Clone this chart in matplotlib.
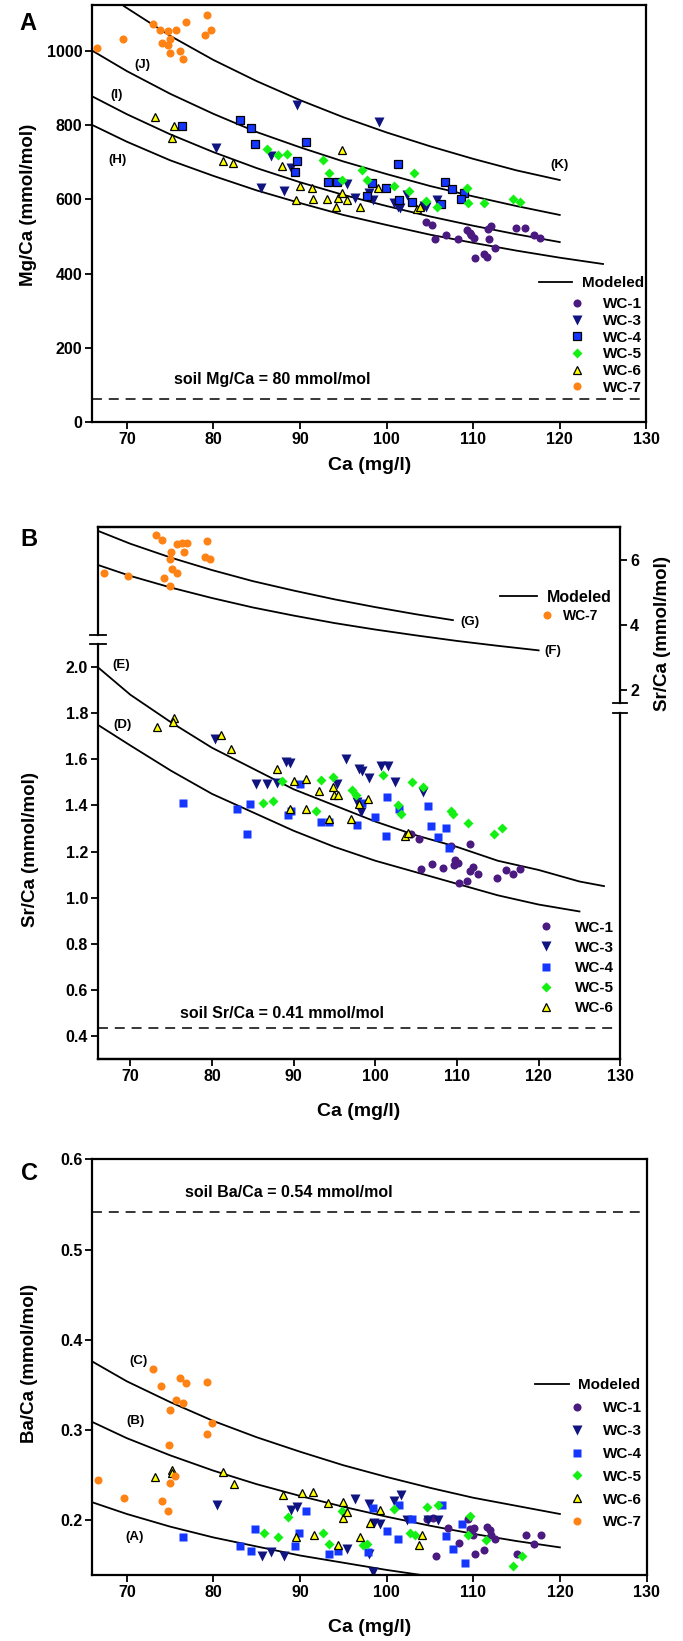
import matplotlib
matplotlib.use("Agg")
import matplotlib.pyplot as plt

plt.rcParams['font.family'] = ['Liberation Sans', 'DejaVu Sans']
plt.rcParams['font.weight'] = 'bold'
plt.rcParams['axes.labelweight'] = 'bold'

# ---------------- panel A : Mg/Ca ----------------
a_wc1_x = [104.5, 105.3, 105.6, 106.9, 108.3, 109.3, 109.8, 109.6, 110.1, 110.2, 111.2, 111.6, 111.7, 112.1, 111.8, 112.5, 115.0, 116.0, 117.0, 117.7]
a_wc1_y = [540, 531, 492, 504, 492, 517, 504, 510, 495, 441, 453, 444, 519, 528, 492, 468, 522, 524, 504, 495]
a_wc3_x = [89.6, 99.1, 80.3, 86.7, 85.5, 88.2, 88.9, 95.4, 96.4, 98.4, 98.0, 100.8, 101.5, 102.4, 104.3, 105.8, 101.3, 104.5]
a_wc3_y = [854, 809, 737, 717, 630, 622, 684, 640, 603, 598, 616, 589, 578, 612, 582, 598, 580, 580]
a_wc4_x = [76.4, 83.1, 84.3, 84.8, 90.7, 89.7, 89.4, 93.2, 94.3, 98.3, 97.7, 99.9, 101.3, 101.4, 102.9, 106.7, 107.6, 108.9, 108.6, 106.3]
a_wc4_y = [798, 813, 791, 749, 755, 703, 673, 646, 646, 645, 609, 631, 695, 598, 594, 648, 628, 616, 600, 587]
a_wc5_x = [86.2, 87.4, 88.5, 92.6, 93.3, 94.8, 97.2, 97.7, 100.9, 102.6, 103.2, 104.5, 105.8, 109.3, 109.4, 111.3, 114.6, 115.4]
a_wc5_y = [735, 719, 721, 706, 670, 652, 679, 652, 637, 623, 670, 596, 580, 630, 591, 591, 601, 594]
a_wc6_x = [73.3, 75.4, 75.2, 81.1, 82.3, 87.9, 90.0, 91.4, 89.5, 91.5, 93.1, 94.4, 94.8, 94.9, 95.4, 96.9, 99.0, 103.5, 103.9, 94.2]
a_wc6_y = [821, 798, 766, 703, 697, 690, 637, 630, 598, 600, 600, 603, 616, 733, 598, 580, 630, 574, 580, 580]
a_wc7_x = [66.6, 69.6, 73.0, 73.8, 74.8, 75.7, 74.1, 75.0, 74.8, 75.0, 76.1, 76.5, 76.8, 79.3, 79.7, 79.0]
a_wc7_y = [1006, 1031, 1071, 1057, 1053, 1056, 1022, 1031, 1015, 995, 1000, 977, 1078, 1096, 1057, 1042]

a_curve_x = [66, 70, 75, 80, 85, 90, 95, 100, 105, 110, 115, 120, 125]
a_H = [800, 755, 705, 663, 624, 590, 558, 531, 505, 483, 462, 443, 426]
a_I = [877, 829, 775, 727, 684, 646, 612, 582, 554, 529, 506, 485]
a_J = [1000, 945, 884, 830, 781, 740, 702, 668, 636, 608, 582, 558]
a_K_x = [69.65, 75, 80, 85, 90, 95, 100, 105, 110, 115, 120]
a_K = [1120, 1040, 975, 918, 867, 821, 780, 743, 709, 678, 652]
a_soil = 64

# ---------------- panel B : Sr/Ca ----------------
b_wc1_x = [104.4, 105.3, 105.6, 106.9, 108.3, 109.3, 109.6, 109.8, 110.1, 110.2, 111.2, 111.6, 111.6, 112.0, 112.6, 114.9, 116.0, 116.9, 117.7]
b_wc1_y = [1.275, 1.253, 1.126, 1.148, 1.130, 1.225, 1.141, 1.162, 1.151, 1.065, 1.073, 1.232, 1.116, 1.133, 1.102, 1.086, 1.119, 1.102, 1.123]
b_wc3_x = [80.4, 85.4, 86.7, 88.0, 89.0, 89.6, 96.4, 98.0, 98.4, 99.2, 95.3, 98.2, 100.7, 101.5, 102.4, 105.8, 97.8]
b_wc3_y = [1.686, 1.495, 1.495, 1.498, 1.589, 1.586, 1.603, 1.556, 1.550, 1.521, 1.495, 1.372, 1.570, 1.573, 1.502, 1.459, 1.415]
b_wc4_x = [76.5, 83.1, 84.7, 84.3, 89.3, 89.7, 90.8, 93.3, 94.3, 97.8, 98.4, 99.9, 101.3, 101.4, 102.9, 106.4, 106.8, 107.7, 108.7, 109.0]
b_wc4_y = [1.411, 1.386, 1.405, 1.274, 1.358, 1.375, 1.495, 1.329, 1.329, 1.314, 1.411, 1.350, 1.268, 1.437, 1.386, 1.397, 1.310, 1.261, 1.304, 1.217]
b_wc5_x = [86.2, 87.5, 88.6, 92.7, 93.3, 94.8, 97.2, 97.6, 100.9, 102.8, 103.2, 104.5, 105.8, 109.3, 109.5, 111.3, 114.5, 115.5]
b_wc5_y = [1.411, 1.418, 1.506, 1.375, 1.509, 1.524, 1.466, 1.444, 1.531, 1.401, 1.362, 1.502, 1.480, 1.376, 1.362, 1.324, 1.274, 1.304]
b_wc6_x = [73.3, 75.3, 75.2, 81.1, 82.3, 88.0, 90.1, 91.5, 89.5, 91.5, 93.1, 94.3, 94.8, 94.9, 95.4, 97.0, 98.0, 99.1, 103.6, 104.0]
b_wc6_y = [1.741, 1.780, 1.760, 1.705, 1.644, 1.557, 1.507, 1.514, 1.386, 1.384, 1.463, 1.340, 1.478, 1.444, 1.444, 1.343, 1.408, 1.427, 1.266, 1.282]
# WC-7 read on the right hand axis
b_wc7_x = [73.1, 73.9, 75.7, 76.3, 76.9, 79.4, 75.0, 76.6, 74.9, 79.2, 79.8, 75.1, 75.7, 74.1, 74.8, 66.8, 69.7]
b_wc7_y = [6.76, 6.62, 6.49, 6.53, 6.52, 6.57, 6.26, 6.26, 6.02, 6.09, 6.04, 5.73, 5.59, 5.46, 5.21, 5.59, 5.52]

b_curve_x = [66, 70, 75, 80, 85, 90, 95, 100, 105, 110, 115, 120, 125, 128]
b_E = [2.00, 1.88, 1.76, 1.65, 1.56, 1.47, 1.40, 1.33, 1.27, 1.22, 1.16, 1.12, 1.07, 1.05]
b_D = [1.75, 1.66, 1.55, 1.45, 1.37, 1.29, 1.22, 1.16, 1.11, 1.06, 1.01, 0.97, 0.94]
b_G_x = [66, 70, 75, 80, 85, 90, 95, 100, 105, 109.5]
b_G = [6.90, 6.50, 6.07, 5.69, 5.35, 5.06, 4.79, 4.55, 4.33, 4.15]
b_F_x = [66, 70, 75, 80, 85, 90, 95, 100, 105, 110, 115, 120]
b_F = [5.85, 5.51, 5.15, 4.83, 4.54, 4.29, 4.06, 3.86, 3.68, 3.51, 3.36, 3.22]
b_soil = 0.435

# ---------------- panel C : Ba/Ca ----------------
c_wc1_x = [104.6, 105.3, 105.7, 107.1, 108.4, 109.4, 109.6, 110.1, 110.0, 110.2, 111.2, 111.6, 111.9, 112.1, 112.5, 115.0, 116.1, 117.0, 117.8]
c_wc1_y = [0.202, 0.203, 0.160, 0.192, 0.175, 0.202, 0.190, 0.191, 0.184, 0.163, 0.167, 0.193, 0.189, 0.184, 0.179, 0.163, 0.184, 0.174, 0.184]
c_wc3_x = [80.4, 85.6, 86.7, 88.2, 89.0, 89.6, 95.4, 96.4, 98.0, 98.0, 98.4, 98.5, 99.2, 100.8, 101.7, 102.3, 105.9, 104.8]
c_wc3_y = [0.217, 0.160, 0.165, 0.161, 0.211, 0.215, 0.168, 0.224, 0.218, 0.163, 0.143, 0.197, 0.196, 0.221, 0.228, 0.200, 0.200, 0.200]
c_wc4_x = [76.5, 83.1, 84.3, 84.8, 89.4, 89.9, 90.7, 93.3, 94.4, 97.8, 98.4, 100.0, 101.3, 101.4, 102.9, 106.4, 106.8, 107.7, 108.7, 109.0]
c_wc4_y = [0.181, 0.172, 0.166, 0.190, 0.172, 0.186, 0.210, 0.163, 0.166, 0.165, 0.214, 0.188, 0.179, 0.217, 0.202, 0.217, 0.183, 0.168, 0.196, 0.153]
c_wc5_x = [85.8, 87.5, 88.6, 92.7, 93.3, 94.8, 97.3, 97.7, 100.9, 102.7, 103.3, 104.6, 105.9, 109.4, 109.6, 111.5, 114.6, 115.6]
c_wc5_y = [0.186, 0.181, 0.204, 0.186, 0.174, 0.210, 0.173, 0.174, 0.212, 0.186, 0.184, 0.215, 0.217, 0.184, 0.205, 0.178, 0.149, 0.161]
c_wc6_x = [73.3, 75.2, 75.2, 81.1, 82.4, 88.0, 89.5, 90.2, 91.5, 91.6, 93.2, 94.4, 94.9, 95.0, 95.4, 96.9, 98.1, 99.2, 103.7, 104.1]
c_wc6_y = [0.248, 0.256, 0.252, 0.253, 0.240, 0.228, 0.182, 0.230, 0.231, 0.184, 0.219, 0.173, 0.220, 0.203, 0.209, 0.181, 0.197, 0.211, 0.173, 0.184]
c_wc7_x = [66.7, 69.7, 73.0, 73.9, 74.1, 74.8, 75.0, 74.9, 75.0, 75.6, 75.7, 76.1, 76.8, 76.5, 79.3, 79.8, 79.2]
c_wc7_y = [0.245, 0.225, 0.368, 0.349, 0.221, 0.210, 0.322, 0.283, 0.241, 0.249, 0.333, 0.358, 0.352, 0.330, 0.353, 0.308, 0.296]

c_curve_x = [66, 70, 75, 80, 85, 90, 95, 100, 105, 110, 115, 120]
c_A = [0.220, 0.207, 0.193, 0.181, 0.171, 0.161, 0.153, 0.145, 0.138, 0.132, 0.126, 0.121]
c_B = [0.309, 0.291, 0.272, 0.255, 0.240, 0.227, 0.215, 0.204, 0.194, 0.185, 0.177, 0.170]
c_C = [0.376, 0.354, 0.331, 0.310, 0.292, 0.276, 0.261, 0.248, 0.236, 0.225, 0.216, 0.207]
c_soil = 0.542

xticks = [70, 80, 90, 100, 110, 120, 130]

W, H = 683, 1641
fig = plt.figure(figsize=(W / 100, H / 100), dpi=100)


def fx(px):
    return px / W


def fy(py):
    return 1 - py / H


def make_ax(l, t, r, b):
    return fig.add_axes([fx(l), fy(b), fx(r) - fx(l), (b - t) / H])


def style(ax):
    for s in ax.spines.values():
        s.set_linewidth(1.6)
    ax.tick_params(direction='out', length=5, width=1.3, labelsize=11.5, pad=2)
    ax.set_xlim(66, 130)
    ax.set_xticks(xticks)


styles = {
    'WC-1': dict(marker='o', color='#4b1a80', ms=5.8, mec='none'),
    'WC-3': dict(marker='v', color='#101480', ms=6.6, mec='none'),
    'WC-4': dict(marker='s', color='#1436ff', ms=5.3, mec='none'),
    'WC-5': dict(marker='D', color='#14f014', ms=5.0, mec='none'),
    'WC-6': dict(marker='^', color='#ffff00', ms=6.2, mec='black', mew=0.9),
    'WC-7': dict(marker='o', color='#ff8214', ms=5.8, mec='none'),
}
edged_wc4 = dict(mec='black', mew=0.9)

TXT_H = 0.91  # legend row text height, in font-size units


def pts(ax, x, y, name, **kw):
    st = dict(styles[name])
    st.update(kw)
    ax.plot(x, y, ls='none', label=name, **st)


def legends(ax, mod_left, mod_cy, mod_len, mod_pad, mk_cx, mk_cy, txt_x, names, spacing, fs=11, extra=None):
    fpx = fs * 100 / 72
    h_line, = ax.plot([], [], color='black', lw=1.3)
    l1 = ax.legend([h_line], ['Modeled'], loc='upper left', frameon=False, fontsize=fs,
                   bbox_to_anchor=(fx(mod_left), fy(mod_cy - TXT_H / 2 * fpx)), bbox_transform=fig.transFigure,
                   borderpad=0, borderaxespad=0, handlelength=mod_len / fpx, handletextpad=mod_pad / fpx)
    ax.add_artist(l1)
    hl = 0.8
    left = mk_cx - hl * fpx / 2
    handles = []
    for n in names:
        st = dict(styles[n])
        if extra and n in extra:
            st.update(extra[n])
        handles.append(ax.plot([], [], ls='none', **st)[0])
    ax.legend(handles, names, loc='upper left', frameon=False, fontsize=fs,
              bbox_to_anchor=(fx(left), fy(mk_cy - TXT_H / 2 * fpx)), bbox_transform=fig.transFigure,
              borderpad=0, borderaxespad=0, handlelength=hl, numpoints=1,
              handletextpad=(txt_x - left - hl * fpx) / fpx,
              labelspacing=(spacing - TXT_H * fpx) / fpx)


# ================= A =================
axA = make_ax(92.3, 5, 646.3, 422.3)
style(axA)
axA.set_ylim(0, 1123)
axA.set_yticks([0, 200, 400, 600, 800, 1000])
axA.plot(a_curve_x, a_H, color='black', lw=1.3)
axA.plot(a_curve_x[:12], a_I, color='black', lw=1.3)
axA.plot(a_curve_x[:12], a_J, color='black', lw=1.3)
axA.plot(a_K_x, a_K, color='black', lw=1.3)
axA.axhline(a_soil, color='black', lw=1.1, dashes=(6.5, 4.5))
pts(axA, a_wc1_x, a_wc1_y, 'WC-1')
pts(axA, a_wc3_x, a_wc3_y, 'WC-3')
pts(axA, a_wc4_x, a_wc4_y, 'WC-4', **edged_wc4)
pts(axA, a_wc5_x, a_wc5_y, 'WC-5')
pts(axA, a_wc6_x, a_wc6_y, 'WC-6')
pts(axA, a_wc7_x, a_wc7_y, 'WC-7')
for lab, x, y in [('(J)', 71.8, 961), ('(I)', 68.8, 880), ('(H)', 68.9, 706), ('(K)', 120.0, 692)]:
    axA.text(x, y, lab, fontsize=9.5, ha='center', va='center')
axA.text(86.8, 116, 'soil Mg/Ca = 80 mmol/mol', fontsize=11.5, ha='center', va='center')
axA.set_xlabel('Ca (mg/l)', fontsize=14)
axA.xaxis.set_label_coords(0.5, -0.083)
axA.set_ylabel('Mg/Ca (mmol/mol)', fontsize=13.5)
axA.yaxis.set_label_coords(-0.10, 0.52)
legends(axA, 539, 283.3, 33, 10, 577, 304.3, 603,
        ['WC-1', 'WC-3', 'WC-4', 'WC-5', 'WC-6', 'WC-7'], 16.6, extra={'WC-4': edged_wc4})
fig.text(fx(28), fy(23), 'A', fontsize=17, ha='center', va='center')

# ================= B =================
axB = make_ax(97.7, 526.7, 620.3, 1059)
style(axB)
axB.set_ylim(0.3, 2.609)
axB.set_yticks([0.4, 0.6, 0.8, 1.0, 1.2, 1.4, 1.6, 1.8, 2.0])
axB.set_yticklabels(['0.4', '0.6', '0.8', '1.0', '1.2', '1.4', '1.6', '1.8', '2.0'])
axR = axB.twinx()
axR.set_ylim(-9.354, 7.025)
axR.set_yticks([2, 4, 6])
for s in axR.spines.values():
    s.set_linewidth(1.6)
axR.tick_params(direction='out', length=5, width=1.3, labelsize=11.5, pad=2)

# broken axes: split the left and right spines
axB.spines['left'].set_bounds(0.3, 2.10)
axR.spines['left'].set_bounds(3.69, 7.025)
axR.spines['right'].set_bounds(1.6, 7.025)
axB.spines['right'].set_bounds(0.3, 1.80)
axB.plot([65.0, 67.0], [2.10, 2.10], color='black', lw=1.3, clip_on=False)
axR.plot([65.0, 67.0], [3.69, 3.69], color='black', lw=1.3, clip_on=False)
axR.plot([129.1, 130.8], [1.6, 1.6], color='black', lw=1.3, clip_on=False)
axB.plot([129.1, 130.8], [1.80, 1.80], color='black', lw=1.3, clip_on=False)

axB.plot(b_curve_x, b_E, color='black', lw=1.3)
axB.plot(b_curve_x[:13], b_D, color='black', lw=1.3)
axR.plot(b_G_x, b_G, color='black', lw=1.3)
axR.plot(b_F_x, b_F, color='black', lw=1.3)
axB.axhline(b_soil, color='black', lw=1.1, dashes=(6.5, 4.5))
pts(axB, b_wc1_x, b_wc1_y, 'WC-1')
pts(axB, b_wc3_x, b_wc3_y, 'WC-3')
pts(axB, b_wc4_x, b_wc4_y, 'WC-4')
pts(axB, b_wc5_x, b_wc5_y, 'WC-5')
pts(axB, b_wc6_x, b_wc6_y, 'WC-6')
pts(axR, b_wc7_x, b_wc7_y, 'WC-7')
axB.text(68.9, 2.008, '(E)', fontsize=9.5, ha='center', va='center')
axB.text(69.0, 1.748, '(D)', fontsize=9.5, ha='center', va='center')
axR.text(111.6, 4.1, '(G)', fontsize=9.5, ha='center', va='center')
axR.text(121.7, 3.2, '(F)', fontsize=9.5, ha='center', va='center')
axB.text(88.6, 0.497, 'soil Sr/Ca = 0.41 mmol/mol', fontsize=11.5, ha='center', va='center')
axB.set_xlabel('Ca (mg/l)', fontsize=14)
axB.xaxis.set_label_coords(0.5, -0.083)
axB.set_ylabel('Sr/Ca (mmol/mol)', fontsize=13.5)
axB.yaxis.set_label_coords(-0.112, 0.393)
axR.set_ylabel('Sr/Ca (mmol/mol)', fontsize=13.5, rotation=90)
axR.yaxis.set_label_coords(1.065, 0.80)

fpx = 11 * 100 / 72
h_line, = axR.plot([], [], color='black', lw=1.3)
lb1 = axR.legend([h_line], ['Modeled'], loc='upper left', frameon=False, fontsize=11.5,
                 bbox_to_anchor=(fx(500), fy(597.3 - 7.3)), bbox_transform=fig.transFigure,
                 borderpad=0, borderaxespad=0, handlelength=37 / 16, handletextpad=10 / 16)
axR.add_artist(lb1)
h7, = axR.plot([], [], ls='none', **styles['WC-7'])
axR.legend([h7], ['WC-7'], loc='upper left', frameon=False, fontsize=10,
           bbox_to_anchor=(fx(541.4), fy(615 - 6.3)), bbox_transform=fig.transFigure,
           borderpad=0, borderaxespad=0, handlelength=0.8, handletextpad=0.75, numpoints=1)
names_b = ['WC-1', 'WC-3', 'WC-4', 'WC-5', 'WC-6']
hb = [axB.plot([], [], ls='none', **styles[n])[0] for n in names_b]
axB.legend(hb, names_b, loc='upper left', frameon=False, fontsize=11,
           bbox_to_anchor=(fx(539.6), fy(927.7 - TXT_H / 2 * fpx)), bbox_transform=fig.transFigure,
           borderpad=0, borderaxespad=0, handlelength=0.8, handletextpad=1.52, numpoints=1,
           labelspacing=(20 - TXT_H * fpx) / fpx)
fig.text(fx(29), fy(540), 'B', fontsize=17, ha='center', va='center')

# ================= C =================
axC = make_ax(92.2, 1159.3, 646.5, 1575)
style(axC)
axC.set_ylim(0.1394, 0.6)
axC.set_yticks([0.2, 0.3, 0.4, 0.5, 0.6])
axC.plot(c_curve_x, c_A, color='black', lw=1.3)
axC.plot(c_curve_x, c_B, color='black', lw=1.3)
axC.plot(c_curve_x, c_C, color='black', lw=1.3)
axC.axhline(c_soil, color='black', lw=1.1, dashes=(6.5, 4.5))
pts(axC, c_wc1_x, c_wc1_y, 'WC-1')
pts(axC, c_wc3_x, c_wc3_y, 'WC-3')
pts(axC, c_wc4_x, c_wc4_y, 'WC-4')
pts(axC, c_wc5_x, c_wc5_y, 'WC-5')
pts(axC, c_wc6_x, c_wc6_y, 'WC-6')
pts(axC, c_wc7_x, c_wc7_y, 'WC-7')
for lab, x, y in [('(C)', 71.3, 0.376), ('(B)', 71.0, 0.310), ('(A)', 70.9, 0.182)]:
    axC.text(x, y, lab, fontsize=9.5, ha='center', va='center')
axC.text(88.7, 0.5627, 'soil Ba/Ca = 0.54 mmol/mol', fontsize=11.5, ha='center', va='center')
axC.set_xlabel('Ca (mg/l)', fontsize=14)
axC.xaxis.set_label_coords(0.5, -0.106)
axC.set_ylabel('Ba/Ca (mmol/mol)', fontsize=13.5)
axC.yaxis.set_label_coords(-0.098, 0.51)
legends(axC, 535, 1385, 34, 9, 577, 1408.3, 603,
        ['WC-1', 'WC-3', 'WC-4', 'WC-5', 'WC-6', 'WC-7'], 22.7)
fig.text(fx(30), fy(1173), 'C', fontsize=17, ha='center', va='center')

fig.savefig('out.png', dpi=100)
